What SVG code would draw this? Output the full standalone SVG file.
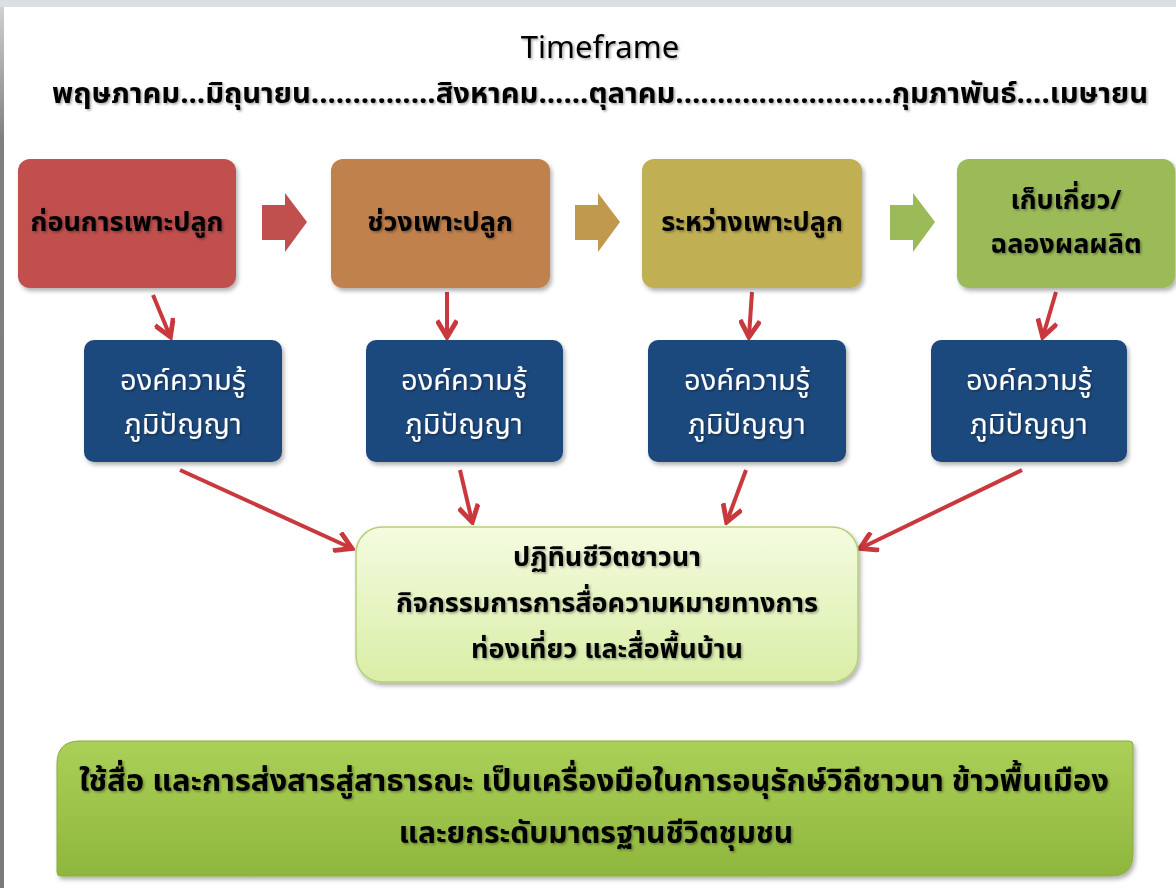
<svg xmlns="http://www.w3.org/2000/svg" width="1176" height="888" viewBox="0 0 1176 888">
<defs>
<style>
.t{font-family:"Noto Sans Thai","Tahoma","DejaVu Sans","Liberation Sans",sans-serif;text-anchor:middle}
.dark{fill:#000;font-weight:bold;font-size:27px}
.wh{fill:#fff;font-size:29px}
.conn{stroke:#c8383d;stroke-width:4;fill:none;marker-end:url(#ah)}
</style>
<marker id="ah" viewBox="0 0 10 10" refX="8" refY="5" markerWidth="5.5" markerHeight="5.5" orient="auto" markerUnits="strokeWidth">
<path d="M1,0.5 L8.5,5 L1,9.5" fill="none" stroke="#c8383d" stroke-width="2.2"/>
</marker>
<linearGradient id="lg" x1="0" y1="0" x2="0" y2="1">
<stop offset="0" stop-color="#f4fbe0"/>
<stop offset="1" stop-color="#d9eea6"/>
</linearGradient>
<linearGradient id="bg" x1="0" y1="0" x2="0" y2="1">
<stop offset="0" stop-color="#abd058"/>
<stop offset="1" stop-color="#8fb63d"/>
</linearGradient>
<linearGradient id="side" x1="0" y1="0" x2="0" y2="1">
<stop offset="0" stop-color="#d0d0d0"/>
<stop offset="0.15" stop-color="#808080"/>
<stop offset="1" stop-color="#7a7a7a"/>
</linearGradient>
<filter id="sh" x="-5%" y="-5%" width="110%" height="120%">
<feDropShadow dx="2" dy="3" stdDeviation="2" flood-color="#000" flood-opacity="0.3"/>
</filter>
<filter id="ts" x="-5%" y="-20%" width="110%" height="140%">
<feDropShadow dx="1.5" dy="1.5" stdDeviation="1" flood-color="#000" flood-opacity="0.35"/>
</filter>
</defs>
<rect width="1176" height="888" fill="#fff"/>
<rect x="0" y="0" width="1176" height="7" fill="#dcdfe2"/>
<rect x="0" y="7" width="4" height="881" fill="url(#side)"/>

<g id="title" filter="url(#ts)">
<text class="t" x="600" y="58" font-size="31" fill="#000">Timeframe</text>
<text class="t" x="600" y="103" font-size="28" font-weight="bold" fill="#000" textLength="1096" lengthAdjust="spacingAndGlyphs">พฤษภาคม...มิถุนายน...............สิงหาคม......ตุลาคม..........................กุมภาพันธ์....เมษายน</text>
</g>

<g id="connectors">
<g id="flow-arrows">
<path d="M262,205 H285 V193 L307,222 L285,252 V240 H262 Z" fill="#c0504d"/>
<path d="M575,205 H598 V193 L620,222 L598,252 V240 H575 Z" fill="#c0994f"/>
<path d="M890,205 H913 V193 L935,222 L913,252 V240 H890 Z" fill="#9bbb59"/>
</g>
<line class="conn" x1="153" y1="295" x2="170" y2="336"/>
<line class="conn" x1="447" y1="292" x2="447" y2="336"/>
<line class="conn" x1="752" y1="292" x2="749" y2="336"/>
<line class="conn" x1="1056" y1="292" x2="1043" y2="336"/>
<line class="conn" x1="180" y1="470" x2="351" y2="548"/>
<line class="conn" x1="460" y1="470" x2="472" y2="521"/>
<line class="conn" x1="746" y1="470" x2="727" y2="521"/>
<line class="conn" x1="1022" y1="470" x2="861" y2="548"/>
</g>

<g id="phase1">
<rect x="18" y="159" width="218" height="129" rx="12" fill="#c0504d" filter="url(#sh)"/>
<text class="t dark" x="127" y="231" filter="url(#ts)">ก่อนการเพาะปลูก</text>
</g>
<g id="phase2">
<rect x="331" y="159" width="219" height="129" rx="12" fill="#c0814e" filter="url(#sh)"/>
<text class="t dark" x="440" y="231" filter="url(#ts)">ช่วงเพาะปลูก</text>
</g>
<g id="phase3">
<rect x="642" y="159" width="220" height="129" rx="12" fill="#c1b052" filter="url(#sh)"/>
<text class="t dark" x="752" y="231" filter="url(#ts)">ระหว่างเพาะปลูก</text>
</g>
<g id="phase4">
<rect x="957" y="159" width="218" height="129" rx="12" fill="#9bbb59" filter="url(#sh)"/>
<text class="t dark" x="1066" y="209" filter="url(#ts)">เก็บเกี่ยว/</text>
<text class="t dark" x="1066" y="253" filter="url(#ts)">ฉลองผลผลิต</text>
</g>

<g id="know1">
<rect x="84" y="340" width="198" height="122" rx="10" fill="#1f497d" filter="url(#sh)"/>
<text class="t wh" x="183" y="390" filter="url(#ts)">องค์ความรู้</text>
<text class="t wh" x="183" y="434" filter="url(#ts)">ภูมิปัญญา</text>
</g>
<g id="know2">
<rect x="366" y="340" width="197" height="122" rx="10" fill="#1f497d" filter="url(#sh)"/>
<text class="t wh" x="464" y="390" filter="url(#ts)">องค์ความรู้</text>
<text class="t wh" x="464" y="434" filter="url(#ts)">ภูมิปัญญา</text>
</g>
<g id="know3">
<rect x="648" y="340" width="198" height="122" rx="10" fill="#1f497d" filter="url(#sh)"/>
<text class="t wh" x="747" y="390" filter="url(#ts)">องค์ความรู้</text>
<text class="t wh" x="747" y="434" filter="url(#ts)">ภูมิปัญญา</text>
</g>
<g id="know4">
<rect x="931" y="340" width="196" height="122" rx="10" fill="#1f497d" filter="url(#sh)"/>
<text class="t wh" x="1029" y="390" filter="url(#ts)">องค์ความรู้</text>
<text class="t wh" x="1029" y="434" filter="url(#ts)">ภูมิปัญญา</text>
</g>

<g id="center">
<rect x="356" y="527" width="502" height="155" rx="26" fill="url(#lg)" stroke="#b5cf7a" stroke-width="1.5" filter="url(#sh)"/>
<text class="t dark" x="607" y="566" filter="url(#ts)">ปฏิทินชีวิตชาวนา</text>
<text class="t dark" x="607" y="612" filter="url(#ts)">กิจกรรมการการสื่อความหมายทางการ</text>
<text class="t dark" x="607" y="658" filter="url(#ts)">ท่องเที่ยว และสื่อพื้นบ้าน</text>
</g>

<g id="banner">
<path d="M80,741 H1129 Q1133,741 1133,745 V854 Q1133,876 1111,876 H61 Q57,876 57,872 V764 Q57,741 80,741 Z" fill="url(#bg)" stroke="#8aac3c" stroke-width="1" filter="url(#sh)"/>
<text class="t" x="594" y="791" font-size="30" font-weight="bold" fill="#000" textLength="1030" lengthAdjust="spacingAndGlyphs" filter="url(#ts)">ใช้สื่อ และการส่งสารสู่สาธารณะ เป็นเครื่องมือในการอนุรักษ์วิถีชาวนา ข้าวพื้นเมือง</text>
<text class="t" x="596" y="843" font-size="30" font-weight="bold" fill="#000" filter="url(#ts)">และยกระดับมาตรฐานชีวิตชุมชน</text>
</g>
</svg>
